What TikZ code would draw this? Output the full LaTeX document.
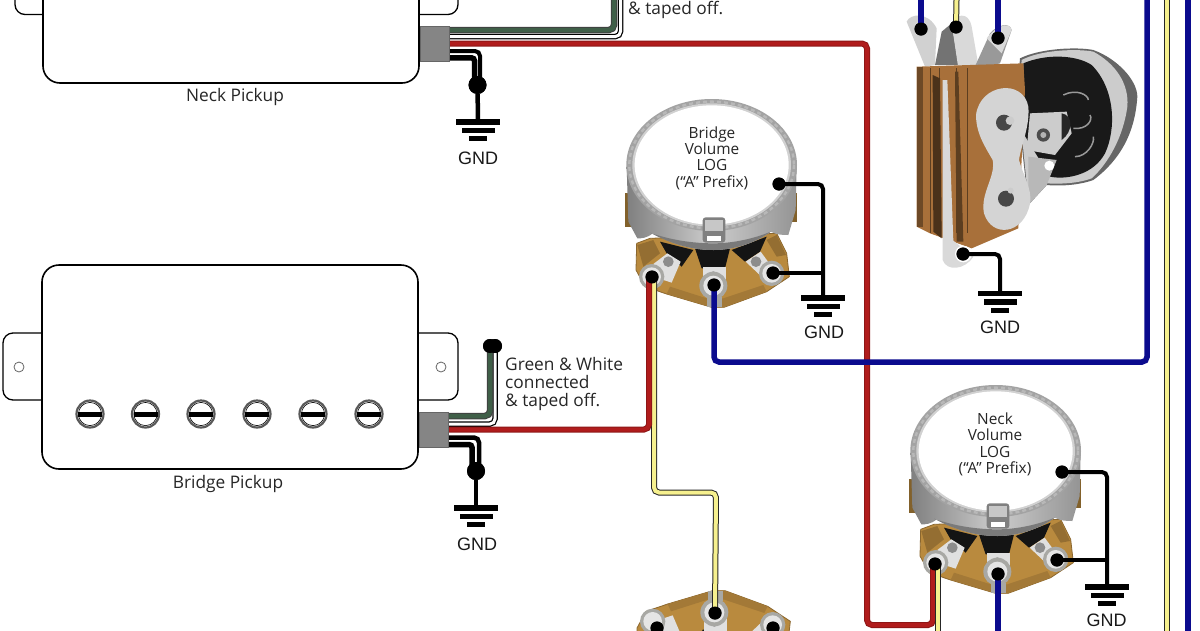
\documentclass[tikz,border=0pt]{standalone}
\usepackage{fontspec}
\setmainfont{Open Sans}
\newfontfamily\gndfont{Liberation Sans}
\definecolor{wred}{HTML}{B01C1C}
\definecolor{wblue}{HTML}{0B0B8E}
\definecolor{wyel}{HTML}{F6F08E}
\definecolor{wgreen}{HTML}{3F5F48}
\definecolor{brass}{HTML}{B98A3E}
\definecolor{lug}{HTML}{A8A8A4}
\definecolor{leather}{HTML}{A8703A}
\tikzset{
 x=1pt,y=-1pt,
 pick/.style={draw=black,line width=1.6pt,fill=white,rounded corners=17pt},
 tab/.style={draw=black,line width=1.3pt,fill=white,rounded corners=10pt},
 hole/.style={circle,draw=black!60,line width=.8pt,minimum size=10pt,inner sep=0pt},
 block/.style={fill=black!48,draw=black!60,line width=.5pt},
 dot/.style={circle,fill=black,inner sep=0pt,minimum size=13pt},
 bigdot/.style={circle,fill=black,inner sep=0pt,minimum size=18pt},
 redo/.style={draw=wred!80!black,line width=6pt,rounded corners=5pt},
 redi/.style={draw=wred,line width=4pt,rounded corners=5pt},
 blu/.style={draw=wblue,line width=5.5pt,rounded corners=5pt},
 yelo/.style={draw=black!85,line width=6pt,rounded corners=5pt},
 yeli/.style={draw=wyel,line width=4pt,rounded corners=5pt},
 greo/.style={draw=black!75,line width=6.5pt,rounded corners=5pt},
 grei/.style={draw=wgreen,line width=4.5pt,rounded corners=5pt},
 whio/.style={draw=black,line width=5.5pt,rounded corners=5pt},
 whii/.style={draw=white,line width=3pt,rounded corners=5pt},
 lbl/.style={font=\fontsize{17.3}{18}\selectfont,text=black!85,inner sep=0pt},
 glbl/.style={font=\gndfont\fontsize{18}{18}\selectfont,text=black!90,inner sep=0pt},
 potlbl/.style={font=\fontsize{15.4}{16.3}\selectfont,text=black!85,inner sep=0pt,align=center},
}
\newcommand\polescrew[1]{%
 \node[circle,draw=black!65,line width=2.2pt,fill=white,minimum size=27pt,inner sep=0pt] (#1) at (#1c) {};
 \draw[black,line width=.6pt] (#1.center) circle (11.6);
 \fill[black] ([xshift=-12pt,yshift=-2.5pt]#1.center) rectangle ([xshift=12pt,yshift=2.5pt]#1.center);}
\newcommand\gndbars[2]{% centre, top y
 \fill[black] (#1-22,#2-2.7) rectangle (#1+22,#2+2.7);
 \fill[black] (#1-16.5,#2+5.8) rectangle (#1+16.5,#2+11);
 \fill[black] (#1-9,#2+14) rectangle (#1+9,#2+19);}
\newcommand\potlower{%
 \fill[brass,draw=brass!75!black,line width=.8pt] (110,400) -- (150,385) -- (530,370) -- (560,430) -- (568,500) -- (500,545) -- (372,592) -- (335,592) -- (200,552) -- (135,530) -- (108,480) -- cycle;
 \fill[brass!80!black] (112,405) -- (160,390) -- (180,430) -- (130,470) -- cycle;
 \fill[brass!80!black] (500,390) -- (530,375) -- (558,435) -- (530,440) -- cycle;
 \fill[brass!88!black] (200,552) -- (335,592) -- (372,592) -- (500,545) -- (490,525) -- (370,565) -- (320,565) -- (210,530) -- cycle;
 \fill[black!92] (180,395) -- (280,420) -- (245,470) -- (200,430) -- cycle;
 \fill[black!92] (285,415) -- (390,415) -- (375,475) -- (305,475) -- cycle;
 \fill[black!92] (395,420) -- (500,380) -- (480,425) -- (435,455) -- cycle;
 \fill[black!12] (160,462) -- (202,430) -- (242,455) -- (215,518) -- (175,505) -- cycle;
 \fill[black!12] (437,455) -- (482,425) -- (515,470) -- (490,505) -- cycle;
 \fill[black!12] (308,470) -- (378,470) -- (378,510) -- (308,510) -- cycle;
 \fill[black!45] (205,455) circle (16);
 \fill[black!45] (468,455) circle (16);
 \fill[black!45] (340,498) circle (14);
 \fill[lug] (155,500) circle (38);
 \fill[lug] (515,490) circle (38);
 \fill[lug] (340,527) circle (42);
 \fill[lug] (322,560) rectangle (365,590);
 \fill[black!10] (155,500) circle (28);
 \fill[black!10] (515,490) circle (28);
 \fill[black!10] (340,527) circle (30);}
\newcommand\potupper{%
 \fill[brass!70!black] (75,250) rectangle (100,350);
 \fill[brass!70!black] (570,250) rectangle (592,335);
 \shade[left color=black!50,right color=black!42,middle color=black!20]
   (80,170) -- (85,335) -- (112,385) .. controls (125,385) and (140,385) .. (158,370)
   .. controls (220,405) and (280,420) .. (340,420)
   .. controls (400,420) and (465,400) .. (512,365)
   .. controls (530,375) and (550,375) .. (565,375) -- (587,300) -- (590,170) -- cycle;
 \fill[black!52] (150,368) .. controls (220,405) and (280,420) .. (340,420)
   .. controls (400,420) and (465,400) .. (512,365)
   .. controls (465,385) and (400,400) .. (340,400)
   .. controls (280,400) and (210,390) .. (150,368) -- cycle;
 \fill[black!36] (335,165) ellipse [x radius=256,y radius=198];
 \draw[black!28,line width=2.4pt,dash pattern=on 4pt off 3pt] (335,165) ellipse [x radius=247,y radius=190];
 \fill[black!18] (335,165) ellipse [x radius=238,y radius=185];
 \fill[white] (335,165) ellipse [x radius=231,y radius=179];
 \fill[black!50,rounded corners=3pt] (308,322) rectangle (376,398);
 \fill[black!22] (316,330) rectangle (368,362);
 \fill[white] (320,378) rectangle (364,394);}
\begin{document}
\begin{tikzpicture}
\useasboundingbox (0,0) rectangle (1200,630);
\clip (0,0) rectangle (1200,630);
\fill[white] (0,0) rectangle (1200,630);
% ----- coordinates
\coordinate (nblockG) at (449,30); \coordinate (nblockW) at (449,36.5);
\coordinate (nblockR) at (449,43.5); \coordinate (nblockK) at (449,51); \coordinate (nblockJ) at (449,57.8);
\coordinate (ngT) at (614,0); \coordinate (nwT) at (620.5,0);
\coordinate (ngk) at (480,80); \coordinate (ngj) at (474.5,80);
\coordinate (bblockG) at (448,416); \coordinate (bblockW) at (448,424);
\coordinate (bblockR) at (448,429.5); \coordinate (bblockK) at (448,437.5); \coordinate (bblockJ) at (448,444.5);
\coordinate (bgk) at (479,465); \coordinate (bgj) at (472,465);
% ----- neck pickup
\draw[tab] (15,-30) -- (15,14.5) -- (60,14.5);
\draw[tab] (400,14.5) -- (458,14.5) -- (458,-30);
\node[pick,minimum width=376pt,minimum height=203pt,inner sep=0pt] (neck) at (231,-18.5) {};
\node[lbl] (neckl) at (235,97.5) {Neck Pickup};
% ----- bridge pickup
\draw[tab] (60,333) -- (3,333) -- (3,400) -- (60,400);
\draw[tab] (400,333) -- (458,333) -- (458,400) -- (400,400);
\node[pick,minimum width=376pt,minimum height=204pt,inner sep=0pt] (bridge) at (230,367) {};
\node[hole,fill=white] (hl) at (19,367) {};
\node[hole,fill=white] (hr) at (441,367) {};
\coordinate (s1c) at (90,414); \coordinate (s2c) at (145.5,414); \coordinate (s3c) at (201,414);
\coordinate (s4c) at (257,414); \coordinate (s5c) at (313,414); \coordinate (s6c) at (369,414);
\polescrew{s1}\polescrew{s2}\polescrew{s3}\polescrew{s4}\polescrew{s5}\polescrew{s6}
\node[lbl] (bridgel) at (228,484) {Bridge Pickup};
% ----- bridge volume pot
\begin{scope}[shift={(600,110)},scale=1/3]\potlower\potupper\end{scope}
\node[potlbl] (bvl) at (712,158) {Bridge\\Volume\\LOG\\(“A” Prefix)};
% ----- neck volume pot
\begin{scope}[shift={(884,396)},scale=1/3]\potlower\potupper\end{scope}
\node[potlbl] (nvl) at (995,444.5) {Neck\\Volume\\LOG\\(“A” Prefix)};
% ----- third pot
\begin{scope}[shift={(601,788)},xscale=1/3,yscale=-1/3]\potlower\end{scope}
% ----- jack
\begin{scope}[shift={(890,0)},scale=1/3]
 \fill[black!18] (50,65) .. controls (60,40) and (115,35) .. (140,85) -- (135,195) -- (105,200) -- cycle;
 \fill[black!55] (135,195) -- (155,95) -- (185,70) -- (205,195) -- cycle;
 \fill[black!15] (185,70) .. controls (195,45) and (235,30) .. (245,80) -- (265,195) -- (205,205) -- cycle;
 \fill[black!40] (250,210) -- (300,100) .. controls (320,75) and (360,65) .. (365,90) -- (330,190) -- cycle;
 \fill[black!15] (290,115) .. controls (320,75) and (360,65) .. (365,90) -- (335,160) -- cycle;
 % chrome can
 \fill[black!60] (390,175) .. controls (450,145) and (560,140) .. (610,150) .. controls (680,175) and (742,240) .. (742,290) .. controls (735,400) and (690,480) .. (610,540) .. controls (560,558) and (500,558) .. (470,555) -- (415,615) -- (380,300) -- cycle;
 \fill[black!20] (395,180) .. controls (450,150) and (560,145) .. (610,155) .. controls (675,190) and (718,250) .. (712,320) .. controls (700,410) and (655,490) .. (605,535) .. controls (560,552) and (500,552) .. (470,550) -- (415,600) -- (385,300) -- cycle;
 \fill[black!90] (400,190) .. controls (470,160) and (560,165) .. (605,195) .. controls (675,265) and (680,385) .. (645,460) .. controls (610,525) and (530,540) .. (480,530) -- (400,400) -- cycle;
 \draw[black!40,line width=1.5pt] (520,285) .. controls (560,265) and (595,285) .. (595,300);
 \draw[black!40,line width=1.5pt] (550,385) .. controls (590,390) and (610,360) .. (600,345);
 \draw[black!40,line width=1.5pt] (555,470) .. controls (590,470) and (615,430) .. (610,410);
 \fill[black!20] (420,340) -- (530,335) -- (545,400) -- (495,465) -- (410,450) -- cycle;
 \fill[black!85] (515,340) .. controls (550,345) and (550,395) .. (515,420) -- cycle;
 \fill[black!70] (460,405) circle (20);
 \fill[black!30] (460,405) circle (9);
 \fill[black!28] (415,470) -- (500,480) -- (470,555) -- (415,615) -- cycle;
 \fill[white] (478,497) circle (15);
 % leather body
 \fill[leather] (80,200) -- (400,190) -- (405,270) -- (385,685) -- (245,745) -- (120,700) -- (80,680) -- cycle;
 \fill[leather!65!black] (80,200) -- (100,200) -- (100,680) -- (80,680) -- cycle;
 \foreach \xa in {122,148,200,232}{\draw[black!45!leather,line width=1.6pt] (\xa,205) -- (\xa,700);}
 \fill[leather!45!black] (128,225) -- (150,235) -- (155,715) -- (130,695) -- cycle;
 \fill[black!15] (158,240) -- (172,240) -- (190,722) -- (250,770) .. controls (225,810) and (170,815) .. (158,780) -- cycle;
 \fill[leather!55!black] (195,215) -- (205,215) -- (220,725) -- (200,725) -- cycle;
 \fill[white] (220,762) circle (25);
 % plate
 \fill[black!17] (258,345) .. controls (270,250) and (400,235) .. (415,320) .. controls (420,380) and (392,440) .. (387,480) .. controls (397,520) and (428,570) .. (420,610) .. controls (402,705) and (305,715) .. (282,640) .. controls (270,580) and (318,530) .. (308,480) .. controls (285,440) and (258,400) .. (258,345) -- cycle;
 \fill[black!72] (342,368) circle (24);
 \fill[black!20] (360,362) circle (13);
 \fill[black!72] (348,596) circle (24);
 \fill[black!20] (362,572) circle (9);
\end{scope}
% ----- ground symbols
\gndbars{478}{122}
\gndbars{476}{508}
\gndbars{823}{298}
\gndbars{1107}{587}
\gndbars{1000}{293.5}
\node[glbl] (g1) at (478,158) {GND};
\node[glbl] (g2) at (477,544) {GND};
\node[glbl] (g3) at (824,332.5) {GND};
\node[glbl] (g4) at (1106.5,620) {GND};
\node[glbl] (g5) at (1000,327) {GND};
% ----- labels
\node[lbl,anchor=west] (ntape) at (628,10) {\& taped off.};
\node[lbl,anchor=north west,align=left,font=\fontsize{17.3}{18}\selectfont] (gw) at (505,357.5) {Green \& White\\connected\\\& taped off.};
% ----- terminals
\node[dot] (bvL) at (652,277) {}; \node[dot] (bvM) at (714,285) {}; \node[dot] (bvR) at (773,273) {}; \node[dot] (bvC) at (779,184) {};
\node[dot] (nvL) at (935,564) {}; \node[dot] (nvM) at (998,574) {}; \node[dot] (nvR) at (1057,560) {}; \node[dot] (nvC) at (1062,472) {};
\node[dot] (toneM) at (715,613) {}; \node[dot] (toneL) at (657,628) {}; \node[dot] (toneR) at (773,628) {};
\node[dot] (jA) at (921,29) {}; \node[dot] (jB) at (956,27) {}; \node[dot] (jC) at (998,38) {}; \node[dot] (jG) at (963,254) {};
\node[bigdot] (ngd) at (477.5,85) {};
\node[bigdot] (bgd) at (476,471) {};
\node[circle,fill=black,inner sep=0pt,minimum size=14pt] (bt1) at (490,346) {};
\node[circle,fill=black,inner sep=0pt,minimum size=14pt] (bt2) at (495,346) {};
\coordinate (ng1) at (478,122); \coordinate (bg1) at (476,508);
\coordinate (g3t) at (823,298); \coordinate (g4t) at (1107,587); \coordinate (g5t) at (1000,293);
\coordinate (bvj) at (823,273); \coordinate (nvj) at (1107,560);
% ----- pot-to-ground wiring
\draw[line width=4pt,rounded corners=5pt] (bvC.center) -| (g3t);
\draw[line width=4pt] (bvR.center) -- (bvj);
\draw[line width=4pt,rounded corners=5pt] (nvC.center) -| (g4t);
\draw[line width=4pt] (nvR.center) -- (nvj);
\draw[line width=4pt,rounded corners=5pt] (jG.center) -| (g5t);
% ----- pickup leads, neck
\draw[whio] (nblockW) -| (nwT); \draw[whii] (nblockW) -| (nwT);
\draw[greo] (nblockG) -| (ngT); \draw[grei] (nblockG) -| (ngT);
\draw[line width=4pt,rounded corners=5pt] (nblockK) -| (ngk);
\draw[line width=5.5pt,rounded corners=3pt] (nblockJ) -| (ngj);
\draw[line width=4.5pt] (ngd) -- (ng1);
\fill[black] (ngd) circle (9);
% ----- pickup leads, bridge
\draw[whio] (bblockW) -| (bt2.center); \draw[whii] (bblockW) -| (bt2.south);
\draw[greo] (bblockG) -| (bt1.center); \draw[grei] (bblockG) -| (bt1.south);
\fill[black] (bt1) circle (7); \fill[black] (bt2) circle (7);
\draw[line width=4.5pt,rounded corners=5pt] (bblockK) -| (bgk);
\draw[line width=5.5pt,rounded corners=3pt] (bblockJ) -| (bgj);
\draw[line width=4.5pt] (bgd) -- (bg1);
\fill[black] (bgd) circle (9);
% ----- long wires
\draw[yelo] (bvL.center) ++(2,0) |- (716,492.5) -- (toneM.center);
\draw[yeli] (bvL.center) ++(2,0) |- (716,492.5) -- (toneM.center);
\draw[redo] (bblockR) -| (649,277);
\draw[redi] (bblockR) -| (649,277);
\draw[blu] (jC.center) -- (998,0);
\draw[blu] (jA.center) -- (921,0);
\draw[yelo] (jB.center) -- (956.5,0);
\draw[yeli] (jB.center) -- (956.5,0);
\coordinate (rcorn) at (867,43.5); \coordinate (rbot) at (867,625); \coordinate (rend) at (933,625);
\draw[redo] (nblockR) -- (rcorn) -- (rbot) -- (rend) -- (933,566);
\draw[redi] (nblockR) -- (rcorn) -- (rbot) -- (rend) -- (933,566);
\draw[blu] (bvM.center) |- (1147,362) -- (1147,0);
\draw[yelo] (938,566) -- (938,640); \draw[yeli] (938,566) -- (938,640);
\draw[blu] (nvM.center) -- (998,640);
\draw[yelo] (1167,0) -- (1167,640); \draw[yeli] (1167,0) -- (1167,640);
\draw[blu] (1188,0) -- (1188,640);
% redraw wire-end dots
\foreach \n in {bvL,bvM,bvR,bvC,nvL,nvM,nvR,nvC,toneM,toneL,toneR,jA,jB,jC,jG}{\fill[black] (\n) circle (6.5);}
% ----- gray lead blocks
\node[block,minimum width=29pt,minimum height=35pt,inner sep=0pt] (nb) at (434.5,43.5) {};
\node[block,minimum width=29pt,minimum height=35pt,inner sep=0pt] (bb) at (433.5,429.5) {};
\end{tikzpicture}
\end{document}
